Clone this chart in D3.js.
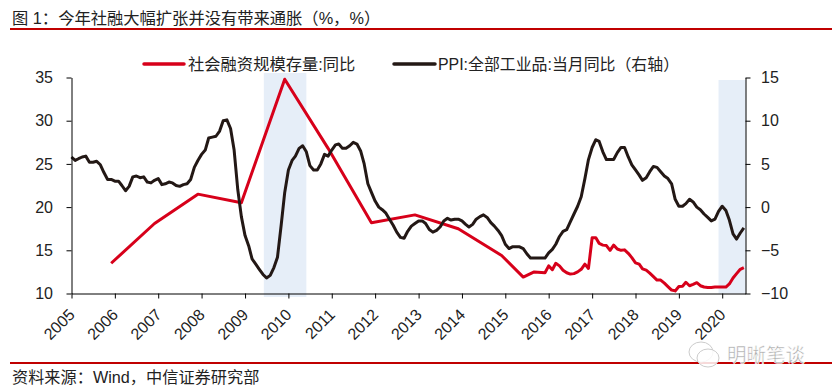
<!DOCTYPE html>
<html>
<head>
<meta charset="utf-8">
<script src="https://cdn.jsdelivr.net/npm/d3@7"></script>
<style>
body { margin: 0; background: #fff; }
text { font-family: "Liberation Sans", "Noto Sans CJK SC", sans-serif; fill: #222; }
</style>
</head>
<body>
<div id="chart"></div>
<script>
var yearTicks = [2005, 2006, 2007, 2008, 2009, 2010, 2011, 2012, 2013, 2014, 2015, 2016, 2017, 2018, 2019, 2020];
var leftTicks = [10, 15, 20, 25, 30, 35];
var rightTicks = [-10, -5, 0, 5, 10, 15];

var titleText = "图 1：今年社融大幅扩张并没有带来通胀（%，%）";
var sourceText = "资料来源：Wind，中信证券研究部";
var tsfName = "社会融资规模存量:同比";
var ppiName = "PPI:全部工业品:当月同比（右轴）";
var markText = "明晰笔谈";

// shaded periods
var bandStarts = ["2009-06-08", "2019-12-01"];
var bandEnds = ["2010-06-01", "2020-07-15"];

// PPI, monthly from 2005-01, right axis
var ppiValues = [
    5.8, 5.4, 5.6, 5.8, 5.9, 5.2, 5.2, 5.3, 4.9, 4.0, 3.2, 3.2,
    3.0, 3.0, 2.5, 1.9, 2.4, 3.5, 3.6, 3.4, 3.5, 2.9, 2.8, 3.1,
    3.3, 2.6, 2.7, 2.9, 2.8, 2.5, 2.4, 2.6, 2.7, 3.2, 4.6, 5.4,
    6.1, 6.6, 8.0, 8.1, 8.2, 8.8, 10.0, 10.1, 9.1, 6.6, 2.0, -1.1,
    -3.3, -4.5, -6.0, -6.6, -7.2, -7.8, -8.2, -7.9, -7.0, -5.8, -2.1, 1.7,
    4.3, 5.4, 5.9, 6.8, 7.1, 6.4, 4.8, 4.3, 4.3, 5.0, 6.1, 5.9,
    6.6, 7.2, 7.3, 6.8, 6.8, 7.1, 7.5, 7.3, 6.5, 5.0, 2.7, 1.7,
    0.7, 0.0, -0.3, -0.7, -1.4, -2.1, -2.9, -3.5, -3.6, -2.8, -2.2, -1.9,
    -1.6, -1.6, -1.9, -2.6, -2.9, -2.7, -2.3, -1.6, -1.3, -1.5, -1.4, -1.4,
    -1.6, -2.0, -2.3, -2.0, -1.4, -1.1, -0.9, -1.2, -1.8, -2.2, -2.7, -3.3,
    -4.3, -4.8, -4.6, -4.6, -4.6, -4.8, -5.4, -5.9, -5.9, -5.9, -5.9, -5.9,
    -5.3, -4.9, -4.3, -3.4, -2.8, -2.6, -1.7, -0.8, 0.1, 1.2, 3.3, 5.5,
    6.9, 7.8, 7.6, 6.4, 5.5, 5.5, 5.5, 6.3, 6.9, 6.9, 5.8, 4.9,
    4.3, 3.7, 3.1, 3.4, 4.1, 4.7, 4.6, 4.1, 3.6, 3.3, 2.7, 0.9,
    0.1, 0.1, 0.4, 0.9, 0.6, 0.0, -0.3, -0.8, -1.2, -1.6, -1.4, -0.5,
    0.1, -0.4, -1.5, -3.1, -3.7, -3.0, -2.4
];

// social financing stock, left axis: yearly at first, monthly later
var tsfDates = [
    "2005-12", "2006-12", "2007-12", "2008-12", "2009-12", "2010-12", "2011-12", "2012-12", "2013-12", "2014-12",
    "2015-06", "2015-09", "2015-12",
    "2016-01", "2016-02", "2016-03", "2016-04", "2016-05", "2016-06", "2016-07", "2016-08", "2016-09", "2016-10", "2016-11", "2016-12",
    "2017-01", "2017-02", "2017-03", "2017-04", "2017-05", "2017-06", "2017-07", "2017-08", "2017-09", "2017-10", "2017-11", "2017-12",
    "2018-01", "2018-02", "2018-03", "2018-04", "2018-05", "2018-06", "2018-07", "2018-08", "2018-09", "2018-10", "2018-11", "2018-12",
    "2019-01", "2019-02", "2019-03", "2019-04", "2019-05", "2019-06", "2019-07", "2019-08", "2019-09", "2019-10", "2019-11", "2019-12",
    "2020-01", "2020-02", "2020-03", "2020-04", "2020-05", "2020-06", "2020-07"
];
var tsfValues = [
    13.5, 18.1, 21.5, 20.5, 34.8, 26.8, 18.2, 19.1, 17.5, 14.4,
    11.9, 12.5, 12.4,
    13.2, 12.75, 13.5, 13.2, 12.7, 12.4, 12.25, 12.3, 12.5, 12.8, 13.4, 12.9,
    16.45, 16.45, 15.8, 15.6, 15.55, 15.0, 15.6, 15.15, 15.0, 15.05, 14.65, 14.15,
    13.55, 13.4, 12.85, 12.7, 12.35, 11.95, 11.55, 11.55, 11.2, 10.8, 10.4, 10.3,
    10.8, 10.85, 11.3, 10.9, 11.05, 11.25, 10.9, 10.75, 10.7, 10.7, 10.75, 10.75,
    10.75, 10.75, 11.1, 11.8, 12.3, 12.8, 13.0
];

var svg = d3.select("#chart").append("svg").attr("width", 832).attr("height", 391);

var parseMonth = d3.timeParse("%Y-%m");
var parseDay = d3.timeParse("%Y-%m-%d");
var plotLeft = 71.5, plotRight = 745.5, plotTop = 77.5, plotBottom = 293.5;

var x = d3.scaleTime()
    .domain([new Date(2005, 0, 1), new Date(2020, 6, 15)])
    .range([plotLeft, plotRight]);
var yL = d3.scaleLinear().domain([10, 35]).range([plotBottom, plotTop]);
var yR = d3.scaleLinear().domain([-10, 15]).range([plotBottom, plotTop]);

// title and source rules
svg.append("text").attr("x", 12).attr("y", 24).style("font-size", "16.3px").text(titleText);
svg.append("rect").attr("x", 10).attr("y", 28).attr("width", 822).attr("height", 2).attr("fill", "#c00000");
svg.append("rect").attr("x", 10).attr("y", 362).attr("width", 822).attr("height", 2).attr("fill", "#c00000");
svg.append("text").attr("x", 12).attr("y", 383).style("font-size", "16.2px").text(sourceText);

// bands, the first one runs a bit higher and lower than the second
var bandTops = [73, 80], bandBottoms = [297, 293.5];
bandStarts.forEach(function (d, i) {
    svg.append("rect")
        .attr("x", x(parseDay(d)))
        .attr("y", bandTops[i])
        .attr("width", x(parseDay(bandEnds[i])) - x(parseDay(d)))
        .attr("height", bandBottoms[i] - bandTops[i])
        .attr("fill", "#e6eef8");
});

var lineL = d3.line()
    .x(function (d) { return x(parseMonth(d.date)); })
    .y(function (d) { return yL(d.value); });

var tsfData = tsfDates.map(function (d, i) {
    return {date: d, value: tsfValues[i]};
});

var lineR = d3.line()
    .x(function (d, i) { return x(new Date(2005, i, 1)); })
    .y(function (d) { return yR(d); });

svg.append("path").datum(tsfData).attr("d", lineL)
    .attr("fill", "none").attr("stroke", "#d7001a").attr("stroke-width", 3).attr("stroke-linejoin", "round");
svg.append("path").datum(ppiValues).attr("d", lineR)
    .attr("fill", "none").attr("stroke", "#231815").attr("stroke-width", 3).attr("stroke-linejoin", "round");

// axes
var xAxis = d3.axisBottom(x)
    .tickValues(yearTicks.map(function (d) { return new Date(d, 0, 1); }))
    .tickFormat(d3.timeFormat("%Y"))
    .tickSize(5)
    .tickSizeOuter(0);
var gx = svg.append("g").attr("transform", "translate(0," + plotBottom + ")").call(xAxis);
gx.selectAll("text")
    .attr("transform", "rotate(-45)")
    .attr("text-anchor", "end")
    .attr("x", -13)
    .attr("y", 12.7)
    .attr("dy", "0.35em")
    .style("font-size", "16px");

var gl = svg.append("g").attr("transform", "translate(" + plotLeft + ",0)")
    .call(d3.axisLeft(yL).tickValues(leftTicks).tickSize(5).tickSizeOuter(0));
gl.selectAll("text").attr("x", -18.5).style("font-size", "16px");

var gr = svg.append("g").attr("transform", "translate(" + plotRight + ",0)")
    .call(d3.axisRight(yR).tickValues(rightTicks).tickSize(5).tickSizeOuter(0));
gr.selectAll("text").attr("x", 15.5).style("font-size", "16px");

svg.selectAll(".domain, .tick line").attr("stroke", "#000").attr("stroke-width", 1);
svg.selectAll(".tick text").attr("fill", "#222");

// legend
svg.append("line").attr("x1", 144).attr("x2", 184).attr("y1", 64).attr("y2", 64)
    .attr("stroke", "#d7001a").attr("stroke-width", 3.5).attr("stroke-linecap", "round");
svg.append("text").attr("x", 188).attr("y", 70).style("font-size", "16.3px").text(tsfName);
svg.append("line").attr("x1", 394).attr("x2", 435).attr("y1", 64).attr("y2", 64)
    .attr("stroke", "#231815").attr("stroke-width", 3.5).attr("stroke-linecap", "round");
svg.append("text").attr("x", 438).attr("y", 70).style("font-size", "15.9px").text(ppiName);

// watermark, sits on top of the lower rule
var bubbles = [[701, 352, 12, 10], [708, 358, 11, 9]];
svg.selectAll(".bubble").data(bubbles).enter().append("ellipse")
    .attr("class", "bubble")
    .attr("cx", function (d) { return d[0]; })
    .attr("cy", function (d) { return d[1]; })
    .attr("rx", function (d) { return d[2]; })
    .attr("ry", function (d) { return d[3]; })
    .attr("fill", "#fff").attr("fill-opacity", 0.85).attr("stroke", "#ccc").attr("stroke-width", 1);
svg.append("text").attr("x", 727).attr("y", 362).style("font-size", "19.5px")
    .style("fill", "#aaa").style("stroke", "#fff").style("stroke-width", 0.5)
    .text(markText);
</script>
</body>
</html>
